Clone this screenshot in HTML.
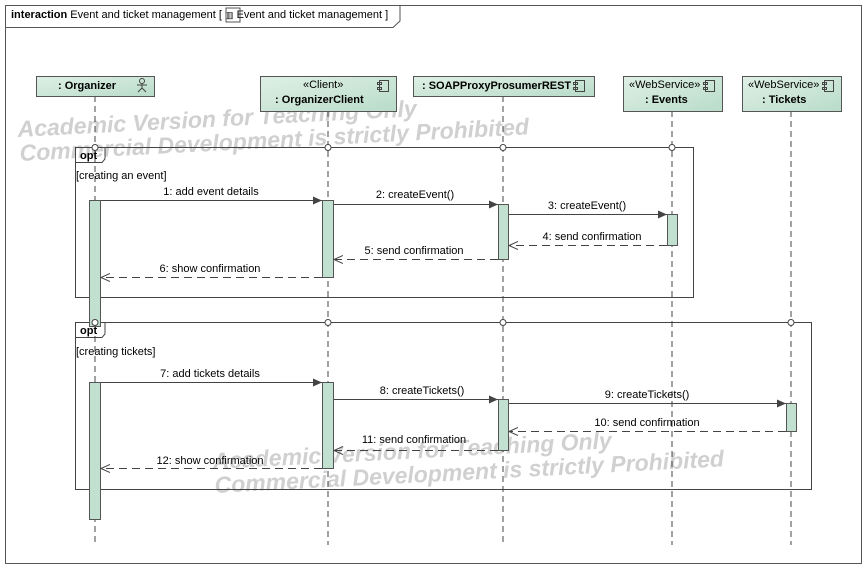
<!DOCTYPE html>
<html><head><style>body{margin:0;background:#fff}svg{display:block}</style></head><body>
<svg width="866" height="569" xmlns="http://www.w3.org/2000/svg" font-family="Liberation Sans, sans-serif" font-size="11">
<defs>
<linearGradient id="g" x1="0" y1="0" x2="1" y2="1"><stop offset="0" stop-color="#dff0e6"/><stop offset="1" stop-color="#b9dcc9"/></linearGradient>
<marker id="af" markerWidth="10" markerHeight="10" refX="9" refY="5" orient="auto" markerUnits="userSpaceOnUse"><path d="M0,1 L9,5 L0,9 z" fill="#444"/></marker>
<marker id="ao" markerWidth="10" markerHeight="10" refX="9" refY="5" orient="auto" markerUnits="userSpaceOnUse"><path d="M0,1 L9,5 L0,9" fill="none" stroke="#444"/></marker>
</defs>
<rect x="5.5" y="5.5" width="856" height="558" fill="#fff" stroke="#555"/>
<path d="M5.5,27.5 H393 L400,21 V5.5" fill="none" stroke="#555"/>
<text x="11" y="18"><tspan font-weight="bold">interaction</tspan>  Event and ticket management [ <tspan font-size="9">▥</tspan>  Event and ticket management ]</text>
<rect x="226" y="8" width="14" height="14" fill="none" stroke="#555"/>
<g fill="#d0d0d0" font-weight="bold" font-style="italic" font-size="23">
<text x="18" y="137" transform="rotate(-3 18 137)">Academic Version for Teaching Only</text>
<text x="20" y="161" transform="rotate(-3 20 161)">Commercial Development is strictly Prohibited</text>
<text x="213" y="469" transform="rotate(-3 213 469)">Academic Version for Teaching Only</text>
<text x="215" y="493" transform="rotate(-3 215 493)">Commercial Development is strictly Prohibited</text>
</g>
<g stroke="#444" stroke-dasharray="6,4">
<line x1="95" y1="96" x2="95" y2="545"/><line x1="328" y1="111" x2="328" y2="545"/>
<line x1="503" y1="96" x2="503" y2="545"/><line x1="672" y1="111" x2="672" y2="545"/>
<line x1="791" y1="111" x2="791" y2="545"/>
</g>
<g stroke="#555" fill="url(#g)">
<rect x="36.5" y="76.5" width="118" height="20"/>
<rect x="260.5" y="76.5" width="136" height="35"/>
<rect x="413.5" y="76.5" width="181" height="20"/>
<rect x="623.5" y="76.5" width="99" height="35"/>
<rect x="742.5" y="76.5" width="99" height="35"/>
</g>
<g font-weight="bold">
<text x="58" y="89">: Organizer</text>
<text x="275" y="103">: OrganizerClient</text>
<text x="422" y="89">: SOAPProxyProsumerREST</text>
<text x="645" y="103">: Events</text>
<text x="762" y="103">: Tickets</text>
</g>
<text x="303" y="88">«Client»</text><text x="629" y="88">«WebService»</text><text x="748" y="88">«WebService»</text>
<g fill="none" stroke="#444">
<circle cx="142" cy="81" r="2.5"/><path d="M137,85 H147 M142,84 V88 M138,92 L142,88 L146,92"/>
<g id="ci"><rect x="379.5" y="80.5" width="9" height="11"/><rect x="377.5" y="82.5" width="4" height="2"/><rect x="377.5" y="87.5" width="4" height="2"/></g>
<use href="#ci" x="196"/><use href="#ci" x="326"/><use href="#ci" x="445"/>
</g>
<g fill="none" stroke="#444">
<rect x="75.5" y="147.5" width="618" height="150"/>
<path d="M75.5,162.5 H102 L105,159 V147.5"/>
<rect x="75.5" y="322.5" width="736" height="167"/>
<path d="M75.5,337.5 H102 L105,334 V322.5"/>
</g>
<text x="80" y="159" font-weight="bold">opt</text><text x="80" y="334" font-weight="bold">opt</text>
<text x="76" y="179">[creating an event]</text><text x="76" y="355">[creating tickets]</text>
<g fill="#c2e0d0" stroke="#555">
<rect x="89.5" y="200.5" width="11" height="126"/>
<rect x="89.5" y="382.5" width="11" height="137"/>
<rect x="322.5" y="200.5" width="11" height="77"/>
<rect x="322.5" y="382.5" width="11" height="86"/>
<rect x="498.5" y="204.5" width="10" height="55"/>
<rect x="498.5" y="399.5" width="10" height="51"/>
<rect x="667.5" y="214.5" width="10" height="31"/>
<rect x="786.5" y="403.5" width="10" height="28"/>
</g>
<g fill="#fff" stroke="#444">
<circle cx="95" cy="147.5" r="3"/><circle cx="328" cy="147.5" r="3"/><circle cx="503" cy="147.5" r="3"/><circle cx="672" cy="147.5" r="3"/>
<circle cx="95" cy="322.5" r="3"/><circle cx="328" cy="322.5" r="3"/><circle cx="503" cy="322.5" r="3"/><circle cx="791" cy="322.5" r="3"/>
</g>
<g stroke="#444">
<line x1="101" y1="200.5" x2="322" y2="200.5" marker-end="url(#af)"/>
<line x1="334" y1="204.5" x2="498" y2="204.5" marker-end="url(#af)"/>
<line x1="509" y1="214.5" x2="667" y2="214.5" marker-end="url(#af)"/>
<line x1="667" y1="245.5" x2="509" y2="245.5" stroke-dasharray="8,5" marker-end="url(#ao)"/>
<line x1="498" y1="259.5" x2="334" y2="259.5" stroke-dasharray="8,5" marker-end="url(#ao)"/>
<line x1="322" y1="277.5" x2="101" y2="277.5" stroke-dasharray="8,5" marker-end="url(#ao)"/>
<line x1="101" y1="382.5" x2="322" y2="382.5" marker-end="url(#af)"/>
<line x1="334" y1="399.5" x2="498" y2="399.5" marker-end="url(#af)"/>
<line x1="509" y1="403.5" x2="786" y2="403.5" marker-end="url(#af)"/>
<line x1="786" y1="431.5" x2="509" y2="431.5" stroke-dasharray="8,5" marker-end="url(#ao)"/>
<line x1="498" y1="450.5" x2="334" y2="450.5" stroke-dasharray="8,5" marker-end="url(#ao)"/>
<line x1="322" y1="468.5" x2="101" y2="468.5" stroke-dasharray="8,5" marker-end="url(#ao)"/>
</g>
<g text-anchor="middle">
<text x="211" y="195">1: add event details</text>
<text x="415" y="198">2: createEvent()</text>
<text x="587" y="209">3: createEvent()</text>
<text x="592" y="240">4: send confirmation</text>
<text x="414" y="254">5: send confirmation</text>
<text x="210" y="272">6: show confirmation</text>
<text x="210" y="377">7: add tickets details</text>
<text x="422" y="394">8: createTickets()</text>
<text x="647" y="398">9: createTickets()</text>
<text x="647" y="426">10: send confirmation</text>
<text x="414" y="443">11: send confirmation</text>
<text x="210" y="464">12: show confirmation</text>
</g>
</svg>
</body></html>
